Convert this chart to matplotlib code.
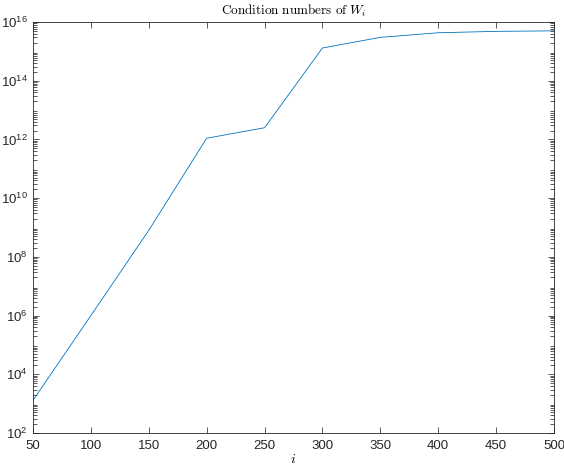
import matplotlib
matplotlib.use('Agg')
import matplotlib.pyplot as plt
from matplotlib.ticker import NullFormatter, FixedLocator

# data
iters = [50, 100, 150, 200, 250, 300, 350, 400, 450, 500]
cond_w = [1.3e3, 1.0e6, 8.0e8, 1.1e12, 2.5e12, 1.3e15, 3.0e15, 4.3e15, 4.8e15, 5.0e15]
x_ticks = [50, 100, 150, 200, 250, 300, 350, 400, 450, 500]
y_ticks = [1e2, 1e4, 1e6, 1e8, 1e10, 1e12, 1e14, 1e16]

plt.rcParams['font.family'] = ['Liberation Sans', 'DejaVu Sans']
plt.rcParams['mathtext.fontset'] = 'cm'

fig = plt.figure(figsize=(5.64, 4.67), dpi=100)
ax = fig.add_axes([33 / 564, 34 / 467, 521 / 564, 411 / 467])

ax.plot(iters, cond_w, color='#0072BD', linewidth=0.6)
ax.set_yscale('log')
ax.set_xlim(50, 500)
ax.set_ylim(1e2, 1e16)

ax.xaxis.set_major_locator(FixedLocator(x_ticks))
ax.yaxis.set_major_locator(FixedLocator(y_ticks))
minor = [m * 10.0 ** e for e in range(2, 16) for m in range(2, 10)]
ax.yaxis.set_minor_locator(FixedLocator(minor))
ax.yaxis.set_minor_formatter(NullFormatter())

ax.tick_params(which='both', direction='in', top=True, right=True,
               color='#404040', labelcolor='#262626', labelsize=9.5)
ax.tick_params(axis='x', pad=5)
ax.tick_params(axis='y', pad=4)
ax.tick_params(which='major', length=4.5, width=0.6)
ax.tick_params(which='minor', length=3, width=0.6)
for s in ax.spines.values():
    s.set_linewidth(0.6)
    s.set_color('#262626')

ax.set_title(r'$\mathrm{Condition\ numbers\ of\ }W_i$', fontsize=9.5, pad=5)
ax.set_xlabel('$i$', fontsize=10, labelpad=0)

fig.savefig('out.png', dpi=100)
